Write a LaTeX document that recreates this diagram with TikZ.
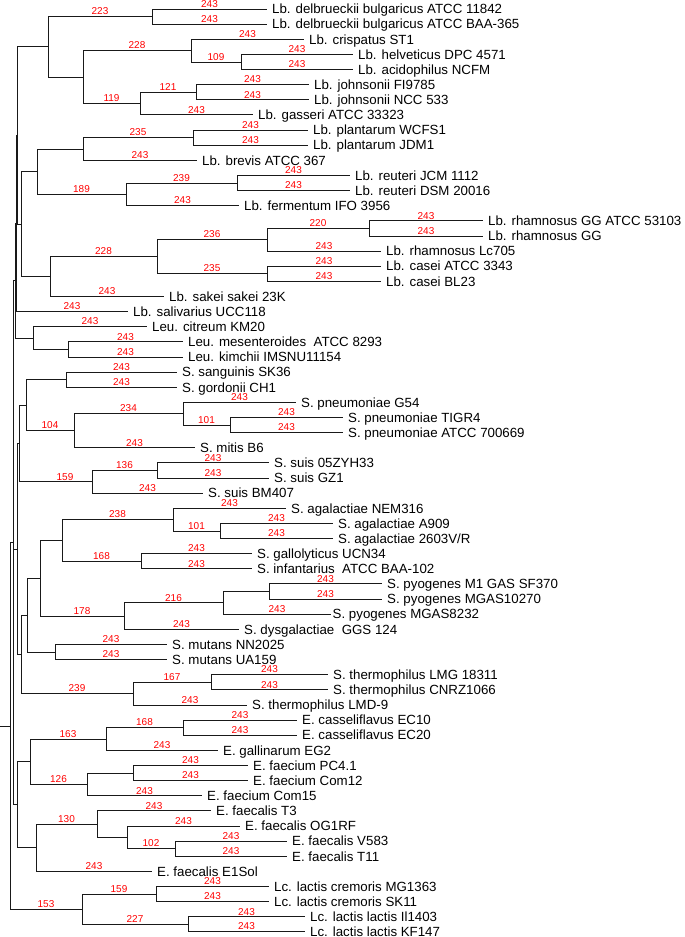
\documentclass[tikz,border=0pt]{standalone}
\usepackage{fontspec}
\setmainfont{Liberation Sans}
\newcommand\tbrl[3]{\draw[br] (#1) |- (#2) node[bs,pos=0.75]{#3};}
\newcommand\tbrp[4]{\draw[br] (#1) |- (#2) node[bs,pos=#4]{#3};}
\newcommand\tbrn[2]{\draw[br] (#1) |- (#2);}
\newcommand\tleaf[4]{\coordinate (#1) at (#2,#3); \node[leaf] (t#1) at (#1) {#4};}
\begin{document}
\begin{tikzpicture}[x=1pt,y=-1pt,
  br/.style={line width=0.9pt, black!90},
  leaf/.style={anchor=base west, font=\fontsize{13.3}{13.3}\selectfont, inner sep=0pt, yshift=-4.7pt, xshift=5pt},
  bs/.style={red, font=\fontsize{10}{10}\selectfont, anchor=base, inner sep=0pt, yshift=1.8pt}]
\useasboundingbox (0,0) rectangle (685,937);
% leaves
\tleaf{l1}{267}{9.0}{Lb. delbrueckii bulgaricus ATCC 11842}
\tleaf{l2}{267}{24.1}{Lb. delbrueckii bulgaricus ATCC BAA-365}
\tleaf{l3}{304}{39.3}{Lb. crispatus ST1}
\tleaf{l4}{353}{54.4}{Lb. helveticus DPC 4571}
\tleaf{l5}{353}{69.5}{Lb. acidophilus NCFM}
\tleaf{l6}{309}{84.7}{Lb. johnsonii FI9785}
\tleaf{l7}{309}{99.8}{Lb. johnsonii NCC 533}
\tleaf{l8}{253}{114.9}{Lb. gasseri ATCC 33323}
\tleaf{l9}{308}{130.0}{Lb. plantarum WCFS1}
\tleaf{l10}{308}{145.2}{Lb. plantarum JDM1}
\tleaf{l11}{197}{160.3}{Lb. brevis ATCC 367}
\tleaf{l12}{350}{175.4}{Lb. reuteri JCM 1112}
\tleaf{l13}{350}{190.6}{Lb. reuteri DSM 20016}
\tleaf{l14}{239}{205.7}{Lb. fermentum IFO 3956}
\tleaf{l15}{483}{220.8}{Lb. rhamnosus GG ATCC 53103}
\tleaf{l16}{483}{236.0}{Lb. rhamnosus GG}
\tleaf{l17}{381}{251.1}{Lb. rhamnosus Lc705}
\tleaf{l18}{381}{266.2}{Lb. casei ATCC 3343}
\tleaf{l19}{381}{281.3}{Lb. casei BL23}
\tleaf{l20}{164}{296.5}{Lb. sakei sakei 23K}
\tleaf{l21}{128}{311.6}{Lb. salivarius UCC118}
\tleaf{l22}{147}{326.7}{Leu. citreum KM20}
\tleaf{l23}{183}{341.9}{Leu. mesenteroides~ ATCC 8293}
\tleaf{l24}{183}{357.0}{Leu. kimchii IMSNU11154}
\tleaf{l25}{177}{372.1}{S. sanguinis SK36}
\tleaf{l26}{177}{387.3}{S. gordonii CH1}
\tleaf{l27}{296}{402.4}{S. pneumoniae G54}
\tleaf{l28}{343}{417.5}{S. pneumoniae TIGR4}
\tleaf{l29}{343}{432.6}{S. pneumoniae ATCC 700669}
\tleaf{l30}{195}{447.8}{S. mitis B6}
\tleaf{l31}{269}{462.9}{S. suis 05ZYH33}
\tleaf{l32}{269}{478.0}{S. suis GZ1}
\tleaf{l33}{203}{493.2}{S. suis BM407}
\tleaf{l34}{286}{508.3}{S. agalactiae NEM316}
\tleaf{l35}{333}{523.4}{S. agalactiae A909}
\tleaf{l36}{333}{538.6}{S. agalactiae 2603V/R}
\tleaf{l37}{252}{553.7}{S. gallolyticus UCN34}
\tleaf{l38}{252}{568.8}{S. infantarius~ ATCC BAA-102}
\tleaf{l39}{382}{583.9}{S. pyogenes M1 GAS SF370}
\tleaf{l40}{382}{599.1}{S. pyogenes MGAS10270}
\coordinate (l41) at (331,614.2); \node[leaf,xshift=-3.5pt] (tl41) at (l41) {S. pyogenes MGAS8232};
\tleaf{l42}{239}{629.3}{S. dysgalactiae~ GGS 124}
\tleaf{l43}{167}{644.5}{S. mutans NN2025}
\tleaf{l44}{167}{659.6}{S. mutans UA159}
\tleaf{l45}{328}{674.7}{S. thermophilus LMG 18311}
\tleaf{l46}{328}{689.9}{S. thermophilus CNRZ1066}
\tleaf{l47}{247}{705.0}{S. thermophilus LMD-9}
\tleaf{l48}{297}{720.1}{E. casseliflavus EC10}
\tleaf{l49}{297}{735.2}{E. casseliflavus EC20}
\tleaf{l50}{218}{750.4}{E. gallinarum EG2}
\tleaf{l51}{248}{765.5}{E. faecium PC4.1}
\tleaf{l52}{248}{780.6}{E. faecium Com12}
\tleaf{l53}{202}{795.8}{E. faecium Com15}
\tleaf{l54}{211}{810.9}{E. faecalis T3}
\tleaf{l55}{240}{826.0}{E. faecalis OG1RF}
\tleaf{l56}{287}{841.2}{E. faecalis V583}
\tleaf{l57}{287}{856.3}{E. faecalis T11}
\tleaf{l58}{152}{871.4}{E. faecalis E1Sol}
\tleaf{l59}{269}{886.5}{Lc. lactis cremoris MG1363}
\tleaf{l60}{269}{901.7}{Lc. lactis cremoris SK11}
\tleaf{l61}{305}{916.8}{Lc. lactis lactis Il1403}
\tleaf{l62}{305}{931.4}{Lc. lactis lactis KF147}
% internal nodes
\coordinate (nDelb) at (152,16.6);
\coordinate (nHelv) at (241,62.0);
\coordinate (nCrisp) at (191,50.6);
\coordinate (nJohn) at (196,92.2);
\coordinate (nGass) at (140,103.6);
\coordinate (nCG) at (83,77.1);
\coordinate (nL1) at (48,46.9);
\coordinate (nPlan) at (193,137.6);
\coordinate (nPB) at (83,148.95);
\coordinate (nReut) at (237,183.0);
\coordinate (nRF) at (126,194.35);
\coordinate (nPR) at (37,171.65);
\coordinate (nRGG) at (369,228.4);
\coordinate (nRh) at (267,239.75);
\coordinate (nCase) at (267,273.75);
\coordinate (nRC) at (157,256.75);
\coordinate (nRCS) at (50,276.6);
\coordinate (n21a) at (21,224.1);
\coordinate (nLtop) at (17.5,135.5);
\coordinate (nL2) at (16,223.55);
\coordinate (nMK) at (68,349.45);
\coordinate (nLeu) at (33,338.1);
\coordinate (nL3) at (15,280.8);
\coordinate (nSG) at (66,379.7);
\coordinate (nP23) at (230,425.05);
\coordinate (nPn) at (183,413.7);
\coordinate (nPM) at (74,430.75);
\coordinate (nMit) at (26,405.2);
\coordinate (nSuis12) at (157,470.45);
\coordinate (nSuis) at (92,481.8);
\coordinate (nAg23) at (220,531.0);
\coordinate (nAg) at (173,519.65);
\coordinate (nGI) at (141,561.25);
\coordinate (nAGI) at (62,540.45);
\coordinate (nPy12) at (269,591.5);
\coordinate (nPy) at (223,602.85);
\coordinate (nPD) at (124,616.1);
\coordinate (n40) at (40,578.3);
\coordinate (nMut) at (55,652.05);
\coordinate (n27) at (27,615.2);
\coordinate (nTh12) at (211,682.3);
\coordinate (nTh) at (133,693.65);
\coordinate (n21s) at (21,654.4);
\coordinate (nSa) at (19,443.5);
\coordinate (nSb) at (17,548.95);
\coordinate (nCass) at (183,727.65);
\coordinate (nCG2) at (106,739.0);
\coordinate (nFPC) at (133,773.05);
\coordinate (nFC) at (87,784.4);
\coordinate (n30) at (30,761.7);
\coordinate (nFV) at (175,848.75);
\coordinate (n127) at (127,837.4);
\coordinate (n97) at (97,824.15);
\coordinate (n36) at (36,847.8);
\coordinate (nE) at (17,804.75);
\coordinate (nA) at (13,542.8);
\coordinate (nRoot) at (10,726);
\coordinate (nLc1) at (156,894.1);
\coordinate (nLc2) at (188,924.1);
\coordinate (nLc) at (82,909.1);
\coordinate (stub) at (0,726);
% branches
\draw[br] (stub) -- (nRoot);
\tbrn{nRoot}{nA}
\tbrl{nRoot}{nLc}{153}
\tbrl{nLc}{nLc1}{159}
\tbrl{nLc}{nLc2}{227}
\tbrl{nLc1}{l59}{243}
\tbrl{nLc1}{l60}{243}
\tbrl{nLc2}{l61}{243}
\tbrl{nLc2}{l62}{243}
\tbrn{nA}{nL3}
\tbrn{nA}{nSb}
\tbrn{nA}{nE}
% Lactobacillus / Leuconostoc
\tbrn{nL3}{nL2}
\tbrn{nL3}{nLeu}
\tbrn{nL2}{nLtop}
\tbrl{nL2}{l21}{243}
\tbrn{nLtop}{nL1}
\tbrn{nLtop}{n21a}
\tbrl{nL1}{nDelb}{223}
\tbrn{nL1}{nCG}
\tbrl{nDelb}{l1}{243}
\tbrl{nDelb}{l2}{243}
\tbrl{nCG}{nCrisp}{228}
\tbrl{nCG}{nGass}{119}
\tbrl{nCrisp}{l3}{243}
\tbrl{nCrisp}{nHelv}{109}
\tbrl{nHelv}{l4}{243}
\tbrl{nHelv}{l5}{243}
\tbrl{nGass}{nJohn}{121}
\tbrl{nGass}{l8}{243}
\tbrl{nJohn}{l6}{243}
\tbrl{nJohn}{l7}{243}
\tbrn{n21a}{nPR}
\tbrn{n21a}{nRCS}
\tbrn{nPR}{nPB}
\tbrl{nPR}{nRF}{189}
\tbrl{nPB}{nPlan}{235}
\tbrl{nPB}{l11}{243}
\tbrl{nPlan}{l9}{243}
\tbrl{nPlan}{l10}{243}
\tbrl{nRF}{nReut}{239}
\tbrl{nRF}{l14}{243}
\tbrl{nReut}{l12}{243}
\tbrl{nReut}{l13}{243}
\tbrl{nRCS}{nRC}{228}
\tbrl{nRCS}{l20}{243}
\tbrl{nRC}{nRh}{236}
\tbrl{nRC}{nCase}{235}
\tbrl{nRh}{nRGG}{220}
\tbrl{nRh}{l17}{243}
\tbrl{nRGG}{l15}{243}
\tbrl{nRGG}{l16}{243}
\tbrl{nCase}{l18}{243}
\tbrl{nCase}{l19}{243}
\tbrl{nLeu}{l22}{243}
\tbrn{nLeu}{nMK}
\tbrl{nMK}{l23}{243}
\tbrl{nMK}{l24}{243}
% Streptococcus
\tbrn{nSb}{nSa}
\tbrn{nSb}{n21s}
\tbrn{nSa}{nMit}
\tbrp{nSa}{nSuis}{159}{0.815}
\tbrn{nMit}{nSG}
\tbrl{nMit}{nPM}{104}
\tbrl{nSG}{l25}{243}
\tbrl{nSG}{l26}{243}
\tbrl{nPM}{nPn}{234}
\tbrl{nPM}{l30}{243}
\tbrl{nPn}{l27}{243}
\tbrl{nPn}{nP23}{101}
\tbrl{nP23}{l28}{243}
\tbrl{nP23}{l29}{243}
\tbrl{nSuis}{nSuis12}{136}
\tbrl{nSuis}{l33}{243}
\tbrl{nSuis12}{l31}{243}
\tbrl{nSuis12}{l32}{243}
\tbrn{n21s}{n27}
\tbrl{n21s}{nTh}{239}
\tbrn{n27}{n40}
\tbrn{n27}{nMut}
\tbrn{n40}{nAGI}
\tbrl{n40}{nPD}{178}
\tbrl{nAGI}{nAg}{238}
\tbrl{nAGI}{nGI}{168}
\tbrl{nAg}{l34}{243}
\tbrl{nAg}{nAg23}{101}
\tbrl{nAg23}{l35}{243}
\tbrl{nAg23}{l36}{243}
\tbrl{nGI}{l37}{243}
\tbrl{nGI}{l38}{243}
\tbrl{nPD}{nPy}{216}
\tbrl{nPD}{l42}{243}
\tbrn{nPy}{nPy12}
\tbrl{nPy}{l41}{243}
\tbrl{nPy12}{l39}{243}
\tbrl{nPy12}{l40}{243}
\tbrl{nMut}{l43}{243}
\tbrl{nMut}{l44}{243}
\tbrl{nTh}{nTh12}{167}
\tbrl{nTh}{l47}{243}
\tbrl{nTh12}{l45}{243}
\tbrl{nTh12}{l46}{243}
% Enterococcus
\tbrn{nE}{n30}
\tbrn{nE}{n36}
\tbrl{n30}{nCG2}{163}
\tbrl{n30}{nFC}{126}
\tbrl{nCG2}{nCass}{168}
\tbrl{nCG2}{l50}{243}
\tbrl{nCass}{l48}{243}
\tbrl{nCass}{l49}{243}
\tbrn{nFC}{nFPC}
\tbrl{nFC}{l53}{243}
\tbrl{nFPC}{l51}{243}
\tbrl{nFPC}{l52}{243}
\tbrl{n36}{n97}{130}
\tbrl{n36}{l58}{243}
\tbrl{n97}{l54}{243}
\tbrn{n97}{n127}
\tbrl{n127}{l55}{243}
\tbrl{n127}{nFV}{102}
\tbrl{nFV}{l56}{243}
\tbrl{nFV}{l57}{243}
\end{tikzpicture}
\end{document}
